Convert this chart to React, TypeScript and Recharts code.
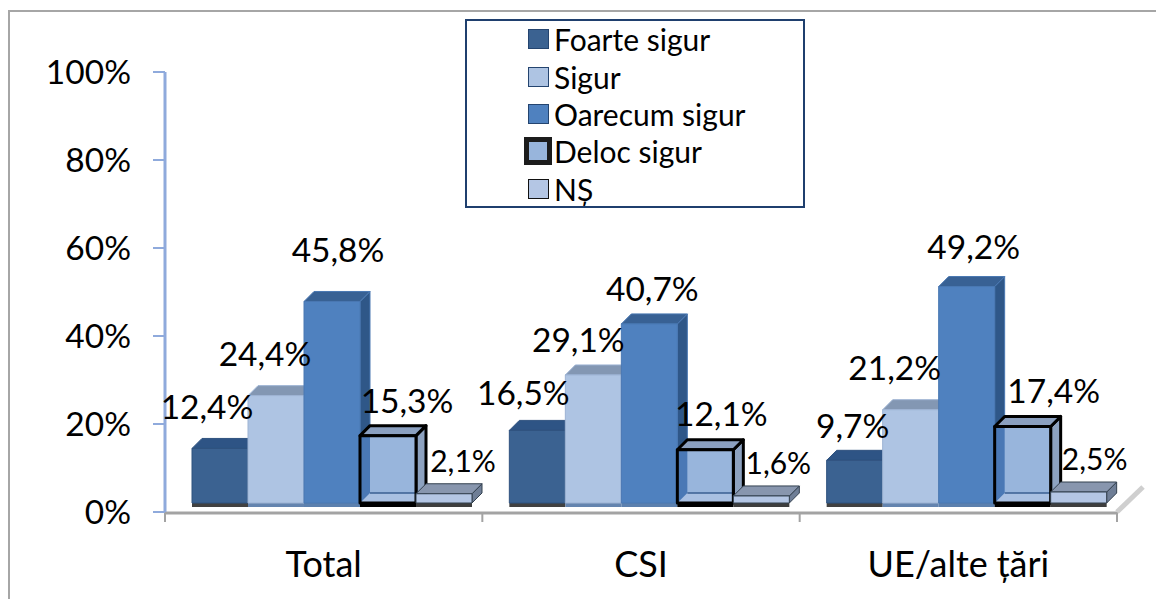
import React from "react";
import { BarChart, Bar, XAxis, YAxis, Legend, LabelList, Customized, usePlotArea } from "recharts";

const categories = ["Total", "CSI", "UE/alte țări"];
const seriesNames = ["Foarte sigur", "Sigur", "Oarecum sigur", "Deloc sigur", "NȘ"];
const foarteSigur = [12.4, 16.5, 9.7];
const sigur = [24.4, 29.1, 21.2];
const oarecumSigur = [45.8, 40.7, 49.2];
const delocSigur = [15.3, 12.1, 17.4];
const ns = [2.1, 1.6, 2.5];
const yTicks = [0, 20, 40, 60, 80, 100];

const data = categories.map((cat, i) => ({
  cat,
  s0: foarteSigur[i],
  s1: sigur[i],
  s2: oarecumSigur[i],
  s3: delocSigur[i],
  s4: ns[i],
}));

const FONT = "Lato, sans-serif";
const SHIFT_X = 8;
const SHIFT_Y = -9;
const D = 10;

type Look = { front: string; top: string; side: string; foot: string; stroke: string; sw: number; open?: boolean };
const looks: Look[] = [
  { front: "#3B6291", top: "#2E5485", side: "#2B4F7E", foot: "#414141", stroke: "#2F527F", sw: 1 },
  { front: "#AEC4E3", top: "#8397B3", side: "#8397B3", foot: "#6484AF", stroke: "#9DB3D3", sw: 1 },
  { front: "#4F81BF", top: "#386194", side: "#2F5788", foot: "#5C80AE", stroke: "#4A78B2", sw: 1 },
  { front: "#98B5DC", top: "#8BA0C0", side: "#8DA2C0", foot: "#000000", stroke: "#000000", sw: 3, open: true },
  { front: "#B4C6E4", top: "#8896AE", side: "#6F7E96", foot: "#3E3E3E", stroke: "#33404F", sw: 1 },
];

const makeShape = (look: Look) => (p: any) => {
  const x = p.x + SHIFT_X;
  const y = p.y + SHIFT_Y;
  const w = p.width;
  const h = p.height;
  const top = `${x},${y} ${x + D},${y - D} ${x + w + D},${y - D} ${x + w},${y}`;
  const side = `${x + w},${y} ${x + w + D},${y - D} ${x + w + D},${y + h - D} ${x + w},${y + h}`;
  const common = { stroke: look.stroke, strokeWidth: look.sw, strokeLinejoin: "round" as const };
  return (
    <g>
      <rect x={x} y={y + h} width={w} height={4} fill={look.foot} />
      <polygon points={side} fill={look.side} {...common} />
      <polygon points={top} fill={look.top} {...common} />
      <rect x={x} y={y} width={w} height={h} fill={look.front} />
      {look.open && (
        <>
          <rect x={x} y={y} width={D} height={h} fill="#4A78B5" />
          <polygon points={`${x},${y + h} ${x + D},${y + h - D} ${x + w},${y + h - D} ${x + w},${y + h}`} fill="#A9C0E2" />
          <line x1={x + D} y1={y + h - D} x2={x + w} y2={y + h - D} stroke="#3A5F92" strokeWidth={1.5} />
        </>
      )}
      <rect x={x} y={y} width={w} height={h} fill="none" {...common} />
    </g>
  );
};

// label centre relative to the centre/top of the bar it annotates: [category][series]
const labelNudges = [
  [[-13, -42], [-11, -43], [6, -52], [19, -36], [19, -34]],
  [[-14, -38], [-15, -36], [3, -36], [16, -37], [17, -34]],
  [[-2, -35], [-16, -43], [7, -41], [31, -36], [16, -34]],
];

const makeLabel = (s: number) => (p: any) => {
  const [dx, dy] = labelNudges[p.index][s];
  const size = s === 4 ? 30 : 33.5;
  return (
    <text
      x={p.x + p.width / 2 + SHIFT_X + dx}
      y={p.y + SHIFT_Y + dy}
      textAnchor="middle"
      dominantBaseline="central"
      fontFamily={FONT}
      fontSize={size}
      fill="#000"
    >
      {String(p.value).replace(".", ",") + "%"}
    </text>
  );
};

const AxisDressing = () => {
  const area = usePlotArea();
  if (!area) return null;
  const { x, y, width, height } = area;
  const base = y + height;
  const right = x + width;
  return (
    <g>
      {[0, 1, 2, 3].map((i) => (
        <line key={i} x1={x + (i * width) / 3} x2={x + (i * width) / 3} y1={base} y2={base + 10} stroke="#A3A3A3" strokeWidth={2} />
      ))}
      <line x1={x} x2={right} y1={base + 1} y2={base + 1} stroke="#A3A3A3" strokeWidth={3} />
      <line x1={right} x2={right + 26} y1={base} y2={base - 25} stroke="#CFCFCF" strokeWidth={5} />
    </g>
  );
};

const swatch = (i: number): React.CSSProperties => {
  const base: React.CSSProperties = { position: "absolute", boxSizing: "border-box", left: 61, top: -10, width: 21, height: 20, background: looks[i].front, border: "1.5px solid #24446F" };
  if (i === 3) return { ...base, left: 57, top: -14, width: 28, height: 28, border: "5px solid #1C1C1C" };
  if (i === 4) return { ...base, border: "1.5px solid #111" };
  return base;
};

const rowCentres = [20, 58, 95, 132, 170];

const LegendBox = () => (
  <div style={{ position: "relative", boxSizing: "border-box", width: 340, height: 189, border: "2px solid #1F3F6E", background: "#fff", fontFamily: FONT, fontSize: 30, color: "#000" }}>
    {seriesNames.map((name, i) => (
      <div key={name} style={{ position: "absolute", left: 0, top: rowCentres[i] - 2, height: 0 }}>
        <span style={swatch(i)} />
        <span style={{ position: "absolute", left: 87, top: -18, lineHeight: "36px", whiteSpace: "nowrap" }}>{name}</span>
      </div>
    ))}
  </div>
);

const keys = ["s0", "s1", "s2", "s3", "s4"];

export default function App() {
  return (
    <div style={{ position: "absolute", left: 0, top: 0, width: 1156, height: 599, overflow: "hidden", background: "#fff" }}>
      <div style={{ position: "absolute", left: 8, top: 10, width: 1148, height: 589, borderTop: "2px solid #A6A6A6", borderLeft: "2px solid #A6A6A6", boxSizing: "border-box" }} />
      <BarChart
        width={1156}
        height={599}
        data={data}
        barSize={56}
        barGap={0}
        margin={{ top: 72, right: 39, bottom: 27, left: 48 }}
        style={{ position: "absolute", left: 0, top: 0 }}
      >
        <XAxis
          dataKey="cat"
          height={60}
          axisLine={false}
          tickLine={false}
          tick={{ fontFamily: FONT, fontSize: 36, fill: "#000" }}
          tickMargin={33}
          interval={0}
        />
        <XAxis xAxisId="lab" dataKey="cat" hide />
        <YAxis
          width={117}
          domain={[0, 100]}
          ticks={yTicks}
          tickFormatter={(v: number) => `${v}%`}
          axisLine={{ stroke: "#8FAADC", strokeWidth: 3 }}
          tickLine={{ stroke: "#8FAADC", strokeWidth: 2 }}
          tickSize={12}
          tickMargin={22}
          tick={{ fontFamily: FONT, fontSize: 33.5, fill: "#000" }}
        />
        <Legend
          layout="vertical"
          align="center"
          verticalAlign="middle"
          content={() => <LegendBox />}
          wrapperStyle={{ left: 465, top: 19, right: "auto", bottom: "auto", width: 340, height: 189 }}
        />
        {keys.map((k, i) => (
          <Bar key={k} dataKey={k} name={seriesNames[i]} fill={looks[i].front} isAnimationActive={false} shape={makeShape(looks[i])} />
        ))}
        {keys.map((k, i) => (
          <Bar key={k + "lab"} xAxisId="lab" dataKey={k} legendType="none" fill="none" isAnimationActive={false} shape={() => <g />}>
            <LabelList dataKey={k} content={makeLabel(i)} />
          </Bar>
        ))}
        <Customized component={AxisDressing} />
      </BarChart>
    </div>
  );
}
